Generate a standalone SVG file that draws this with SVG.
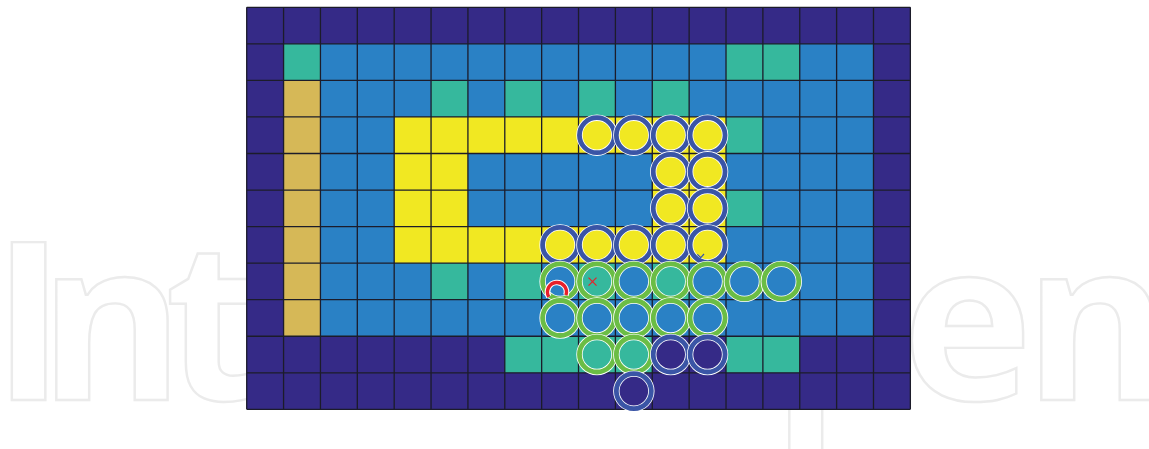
<svg xmlns="http://www.w3.org/2000/svg" width="1149" height="449" viewBox="0 0 1149 449">
<style>
.wm{font-family:"Open Sans","Liberation Sans",sans-serif;font-weight:700;font-size:221px;fill:none;stroke:#ebebeb;stroke-width:2.4}
.n{fill:#352a87}.b{fill:#2a81c5}.t{fill:#36b89d}.y{fill:#f1e822}.g{fill:#d6b857}
.gl{fill:none;stroke:#1c1c2a;stroke-width:1.3;vector-effect:non-scaling-stroke}
.halo{fill:none;stroke:#ffffff;stroke-width:6.4}
.rb{fill:none;stroke:#3a55a6;stroke-width:4.8}
.rg{fill:none;stroke:#6bbd45;stroke-width:4.8}
</style>
<defs>
<g id="cb"><circle r="17.5" class="halo"/><circle r="17.5" class="rb"/></g>
<g id="cg"><circle r="17.5" class="halo"/><circle r="17.5" class="rg"/></g>
</defs>
<g id="watermark">
<text class="wm" x="-8 39 165 250 350 450 560 772 902 1024" y="400">IntechOpen</text>
</g>
<g id="grid" transform="translate(246.7,7.3) scale(36.87,36.55)">
<rect class="n" x="0" y="0" width="18" height="11"/>
<rect class="b" x="1" y="1" width="16" height="8"/>
<rect class="g" x="1" y="2" width="1" height="7"/>
<rect class="y" x="4" y="3" width="9" height="1"/>
<rect class="y" x="4" y="4" width="2" height="2"/>
<rect class="y" x="11" y="4" width="2" height="2"/>
<rect class="y" x="4" y="6" width="9" height="1"/>
<rect class="t" x="1" y="1" width="1" height="1"/>
<rect class="t" x="13" y="1" width="2" height="1"/>
<rect class="t" x="5" y="2" width="1" height="1"/>
<rect class="t" x="7" y="2" width="1" height="1"/>
<rect class="t" x="9" y="2" width="1" height="1"/>
<rect class="t" x="11" y="2" width="1" height="1"/>
<rect class="t" x="13" y="3" width="1" height="1"/>
<rect class="t" x="13" y="5" width="1" height="1"/>
<rect class="t" x="5" y="7" width="1" height="1"/>
<rect class="t" x="7" y="7" width="1" height="1"/>
<rect class="t" x="9" y="7" width="1" height="1"/>
<rect class="t" x="11" y="7" width="1" height="1"/>
<rect class="t" x="7" y="9" width="4" height="1"/>
<rect class="t" x="13" y="9" width="2" height="1"/>
<path class="gl" d="M0 0V11M1 0V11M2 0V11M3 0V11M4 0V11M5 0V11M6 0V11M7 0V11M8 0V11M9 0V11M10 0V11M11 0V11M12 0V11M13 0V11M14 0V11M15 0V11M16 0V11M17 0V11M18 0V11M0 0H18M0 1H18M0 2H18M0 3H18M0 4H18M0 5H18M0 6H18M0 7H18M0 8H18M0 9H18M0 10H18M0 11H18"/>
</g>
<g id="yellow-path">
<use href="#cb" x="596.97" y="135.2"/>
<use href="#cb" x="633.84" y="135.2"/>
<use href="#cb" x="670.71" y="135.2"/>
<use href="#cb" x="707.58" y="135.2"/>
<use href="#cb" x="670.71" y="171.8"/>
<use href="#cb" x="707.58" y="171.8"/>
<use href="#cb" x="670.71" y="208.3"/>
<use href="#cb" x="707.58" y="208.3"/>
<use href="#cb" x="560.1" y="244.9"/>
<use href="#cb" x="596.97" y="244.9"/>
<use href="#cb" x="633.84" y="244.9"/>
<use href="#cb" x="670.71" y="244.9"/>
<use href="#cb" x="707.58" y="244.9"/>
</g>
<g id="green-set">
<use href="#cg" x="560.1" y="281.4"/>
<use href="#cg" x="596.97" y="281.4"/>
<use href="#cg" x="633.84" y="281.4"/>
<use href="#cg" x="670.71" y="281.4"/>
<use href="#cg" x="707.58" y="281.4"/>
<use href="#cg" x="744.45" y="281.4"/>
<use href="#cg" x="781.32" y="281.4"/>
<use href="#cg" x="560.1" y="318"/>
<use href="#cg" x="596.97" y="318"/>
<use href="#cg" x="633.84" y="318"/>
<use href="#cg" x="670.71" y="318"/>
<use href="#cg" x="707.58" y="318"/>
<use href="#cg" x="596.97" y="354.5"/>
<use href="#cg" x="633.84" y="354.5"/>
</g>
<g id="navy-set">
<use href="#cb" x="670.71" y="354.5"/>
<use href="#cb" x="707.58" y="354.5"/>
<use href="#cb" x="633.84" y="391.1"/>
</g>
<g id="marks">
<path d="M548.8 296.8A9.5 9.5 0 1 1 565.9 295.2" fill="none" stroke="#ffffff" stroke-width="5.6"/>
<path d="M548.8 296.8A9.5 9.5 0 1 1 565.9 295.2" fill="none" stroke="#e8202a" stroke-width="3.4"/>
<path d="M588.5 277.7L596.5 285.7M596.5 277.7L588.5 285.7" fill="none" stroke="#e8202a" stroke-width="1.2"/>
<path d="M697.3 254.3L700.7 257.7L704 254" fill="none" stroke="#3a55a6" stroke-width="1.2"/>
</g>
</svg>
